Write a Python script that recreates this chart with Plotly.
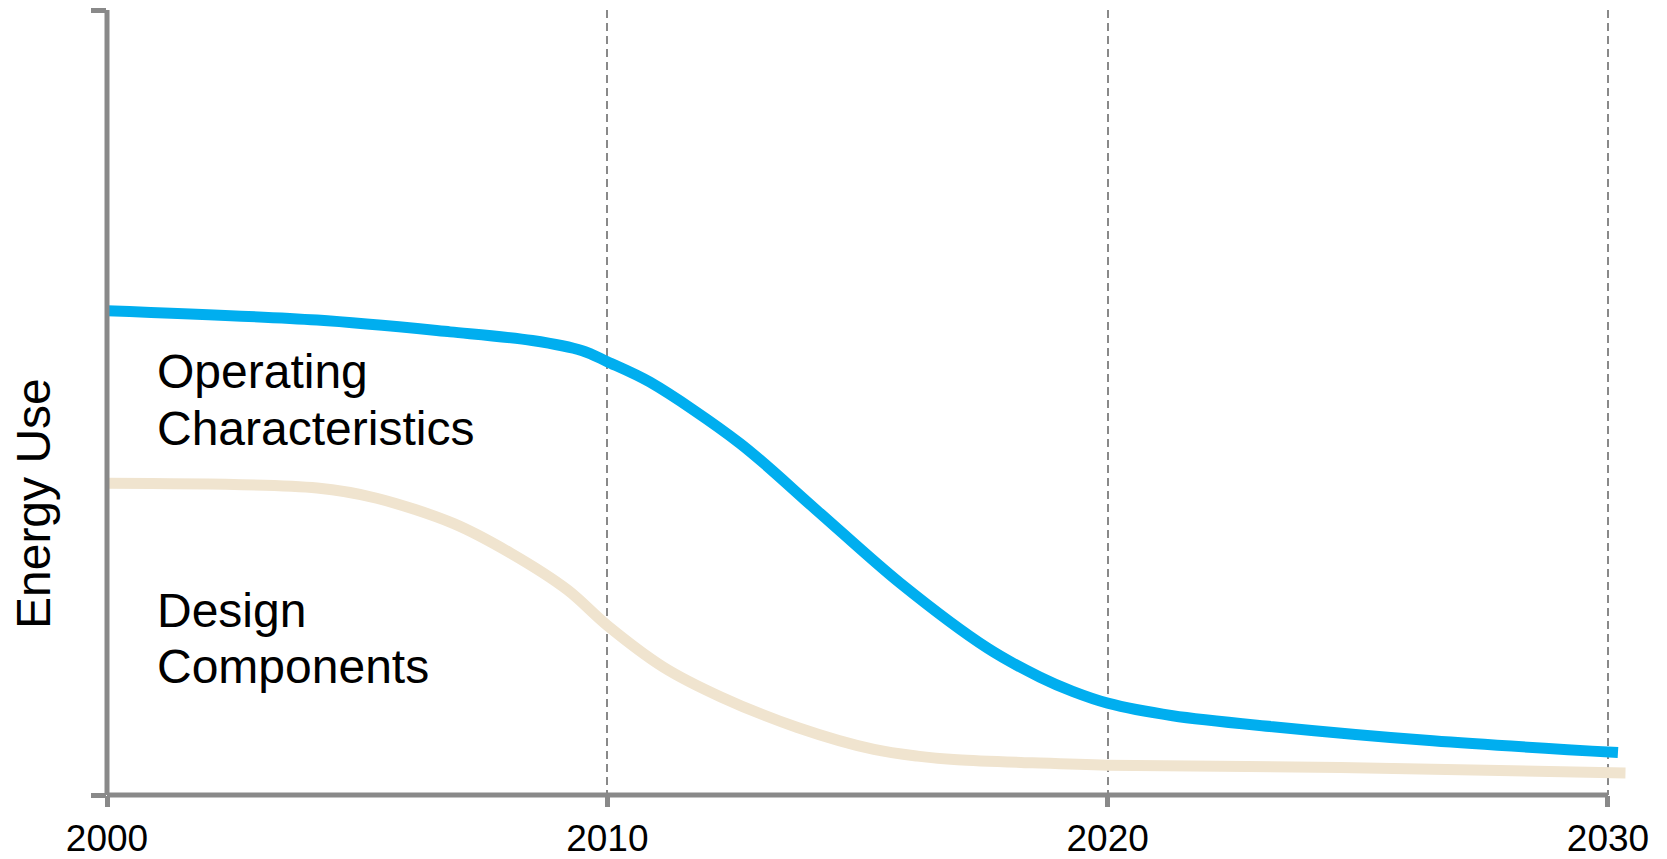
import plotly.graph_objects as go

# Energy use trajectories (relative index, 0-100)
years_operating = [2000, 2004.2, 2006.86, 2008.5, 2009.5, 2010, 2010.85, 2012.65,
                   2014.18, 2015.85, 2017.6, 2018.65, 2019.3, 2020, 2021.3, 2023.3,
                   2026.5, 2030.2]
operating = [61.7, 60.5, 59.0, 57.9, 56.6, 55.2, 52.6, 44.8,
             36.3, 27.0, 18.7, 15.0, 13.2, 11.7, 10.1, 8.7,
             6.9, 5.4]

years_design = [2000, 2004.2, 2005.39, 2006.92, 2008.07, 2009.21, 2010, 2011.12,
                2012.27, 2013.8, 2015.33, 2016.2, 2017, 2018.5, 2020, 2024.65, 2030.35]
design = [39.7, 39.1, 37.8, 34.6, 30.8, 26.1, 21.6, 16.3,
          12.5, 8.6, 5.8, 4.95, 4.5, 4.1, 3.8, 3.5, 2.8]

tick_years = [2000, 2010, 2020, 2030]
tick_labels = ["2000", "2010", "2020", "2030"]

AXIS_GREY = "#898989"
FONT = "Liberation Sans, Arial, sans-serif"

fig = go.Figure()

fig.add_trace(go.Scatter(
    x=years_design, y=design, mode="lines",
    line=dict(color="#F0E4CF", width=11, shape="spline", smoothing=0.9),
    hoverinfo="skip", showlegend=False,
))
fig.add_trace(go.Scatter(
    x=years_operating, y=operating, mode="lines",
    line=dict(color="#00AEEF", width=11, shape="spline", smoothing=0.9),
    hoverinfo="skip", showlegend=False,
))

# Axis lines drawn as shapes so they sit centred on the plot edges;
# the x baseline stops at the last labelled year
fig.add_shape(type="line", x0=2000, x1=2030, y0=0, y1=0, xref="x", yref="paper",
              line=dict(color=AXIS_GREY, width=5), layer="above")
fig.add_shape(type="line", x0=0, x1=0, y0=0, y1=1, xref="paper", yref="paper",
              line=dict(color=AXIS_GREY, width=5), layer="above")

# Series labels
labels = [
    ("Operating", 53.95),
    ("Characteristics", 46.7),
    ("Design", 23.5),
    ("Components", 16.4),
]
for text, yv in labels:
    fig.add_annotation(x=2000.96, y=yv, xref="x", yref="y", text=text,
                       showarrow=False, xanchor="left", yanchor="middle",
                       font=dict(family=FONT, size=48, color="black"))

# Vertical axis title
fig.add_annotation(x=-0.0477, y=0.3707, xref="paper", yref="paper",
                   text="Energy Use", textangle=-90, showarrow=False,
                   xanchor="center", yanchor="middle",
                   font=dict(family=FONT, size=48, color="black"))

fig.update_layout(
    width=1667, height=859,
    margin=dict(l=107, r=9, t=10, b=64, autoexpand=False),
    paper_bgcolor="white", plot_bgcolor="white",
    font=dict(family=FONT, color="black"),
    xaxis=dict(
        range=[2000, 2031], tickvals=tick_years, ticktext=tick_labels,
        showline=False, zeroline=False, automargin=False,
        ticks="outside", ticklen=11, tickwidth=5, tickcolor=AXIS_GREY,
        showgrid=True, gridcolor=AXIS_GREY, gridwidth=2, griddash="8px,5px",
        tickfont=dict(family=FONT, size=37, color="black"),
    ),
    yaxis=dict(
        range=[0, 100], tickvals=[0, 100], showticklabels=False,
        showline=False, automargin=False,
        zeroline=False, showgrid=False,
        ticks="outside", ticklen=15, tickwidth=5, tickcolor=AXIS_GREY,
    ),
)

fig.write_html("out.html")
